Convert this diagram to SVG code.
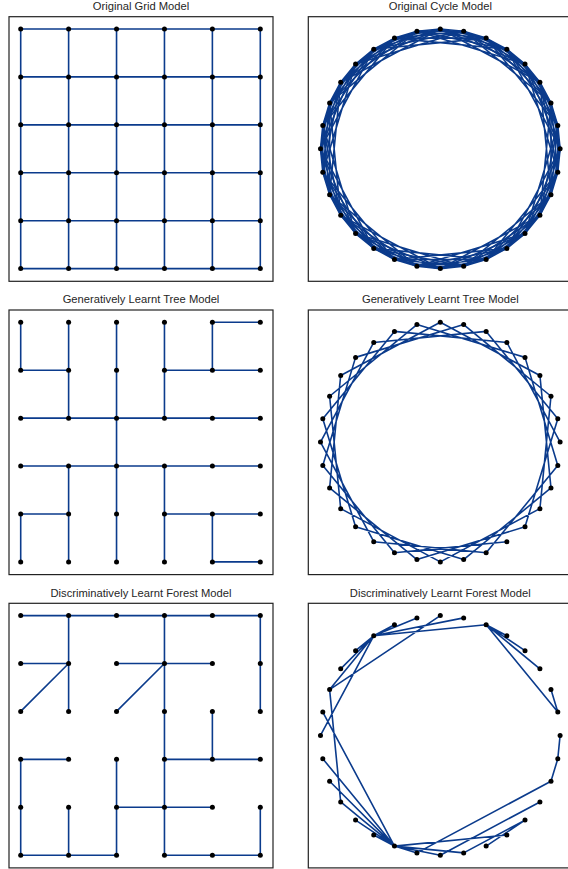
<svg xmlns="http://www.w3.org/2000/svg" width="568" height="869" viewBox="0 0 568 869">
<style>
.bg{fill:#fff}
.frame{fill:none;stroke:#222;stroke-width:1.2}
.e{fill:none;stroke:#0b3b8c;stroke-width:1.6;stroke-linejoin:round;stroke-linecap:round}
.n{fill:#000}
.t{font-family:"Liberation Sans",Arial,sans-serif;font-size:11.2px;fill:#262626;text-anchor:middle}
</style>
<rect class="bg" x="0" y="0" width="568" height="869"/>
<g id="titles">
<text class="t" x="141" y="10">Original Grid Model</text>
<text class="t" x="440.3" y="10">Original Cycle Model</text>
<text class="t" x="141" y="303.3">Generatively Learnt Tree Model</text>
<text class="t" x="440.3" y="303.3">Generatively Learnt Tree Model</text>
<text class="t" x="141" y="596.6">Discriminatively Learnt Forest Model</text>
<text class="t" x="440.3" y="596.6">Discriminatively Learnt Forest Model</text>
</g>
<g id="frames">
<rect class="frame" x="9" y="16.7" width="264" height="264.6"/>
<rect class="frame" x="308.3" y="16.7" width="264" height="264.6"/>
<rect class="frame" x="9" y="310" width="264" height="264.6"/>
<rect class="frame" x="308.3" y="310" width="264" height="264.6"/>
<rect class="frame" x="9" y="603.3" width="264" height="264.6"/>
<rect class="frame" x="308.3" y="603.3" width="264" height="264.6"/>
</g>
<g id="connectors">
<g id="edges-grid-original" transform="translate(20.7,29)">
<path class="e" d="M0,0H239.6M0,47.92H239.6M0,95.84H239.6M0,143.76H239.6M0,191.68H239.6M0,239.6H239.6M0,0V239.6M47.92,0V239.6M95.84,0V239.6M143.76,0V239.6M191.68,0V239.6M239.6,0V239.6"/>
</g>
<g id="edges-cycle-original" transform="translate(440.3,148.8)">
<polygon class="e" points="0,-119.8 23.37,-117.5 45.85,-110.68 66.56,-99.61 84.71,-84.71 99.61,-66.56 110.68,-45.85 117.5,-23.37 119.8,0 117.5,23.37 110.68,45.85 99.61,66.56 84.71,84.71 66.56,99.61 45.85,110.68 23.37,117.5 0,119.8 -23.37,117.5 -45.85,110.68 -66.56,99.61 -84.71,84.71 -99.61,66.56 -110.68,45.85 -117.5,23.37 -119.8,0 -117.5,-23.37 -110.68,-45.85 -99.61,-66.56 -84.71,-84.71 -66.56,-99.61 -45.85,-110.68 -23.37,-117.5"/>
<polygon class="e" points="0,-119.8 45.85,-110.68 84.71,-84.71 110.68,-45.85 119.8,0 110.68,45.85 84.71,84.71 45.85,110.68 0,119.8 -45.85,110.68 -84.71,84.71 -110.68,45.85 -119.8,0 -110.68,-45.85 -84.71,-84.71 -45.85,-110.68"/>
<polygon class="e" points="23.37,-117.5 66.56,-99.61 99.61,-66.56 117.5,-23.37 117.5,23.37 99.61,66.56 66.56,99.61 23.37,117.5 -23.37,117.5 -66.56,99.61 -99.61,66.56 -117.5,23.37 -117.5,-23.37 -99.61,-66.56 -66.56,-99.61 -23.37,-117.5"/>
<polygon class="e" points="0,-119.8 66.56,-99.61 110.68,-45.85 117.5,23.37 84.71,84.71 23.37,117.5 -45.85,110.68 -99.61,66.56 -119.8,0 -99.61,-66.56 -45.85,-110.68 23.37,-117.5 84.71,-84.71 117.5,-23.37 110.68,45.85 66.56,99.61 0,119.8 -66.56,99.61 -110.68,45.85 -117.5,-23.37 -84.71,-84.71 -23.37,-117.5 45.85,-110.68 99.61,-66.56 119.8,0 99.61,66.56 45.85,110.68 -23.37,117.5 -84.71,84.71 -117.5,23.37 -110.68,-45.85 -66.56,-99.61"/>
<polygon class="e" points="0,-119.8 84.71,-84.71 119.8,0 84.71,84.71 0,119.8 -84.71,84.71 -119.8,0 -84.71,-84.71"/>
<polygon class="e" points="23.37,-117.5 99.61,-66.56 117.5,23.37 66.56,99.61 -23.37,117.5 -99.61,66.56 -117.5,-23.37 -66.56,-99.61"/>
<polygon class="e" points="45.85,-110.68 110.68,-45.85 110.68,45.85 45.85,110.68 -45.85,110.68 -110.68,45.85 -110.68,-45.85 -45.85,-110.68"/>
<polygon class="e" points="66.56,-99.61 117.5,-23.37 99.61,66.56 23.37,117.5 -66.56,99.61 -117.5,23.37 -99.61,-66.56 -23.37,-117.5"/>
<polygon class="e" points="0,-119.8 99.61,-66.56 110.68,45.85 23.37,117.5 -84.71,84.71 -117.5,-23.37 -45.85,-110.68 66.56,-99.61 119.8,0 66.56,99.61 -45.85,110.68 -117.5,23.37 -84.71,-84.71 23.37,-117.5 110.68,-45.85 99.61,66.56 0,119.8 -99.61,66.56 -110.68,-45.85 -23.37,-117.5 84.71,-84.71 117.5,23.37 45.85,110.68 -66.56,99.61 -119.8,0 -66.56,-99.61 45.85,-110.68 117.5,-23.37 84.71,84.71 -23.37,117.5 -110.68,45.85 -99.61,-66.56"/>
</g>
<g id="edges-grid-tree" transform="translate(20.7,322.3)">
<path class="e" d="M191.68,0H239.6M0,47.92H47.92M143.76,47.92H239.6M0,95.84H239.6M0,143.76H239.6M0,191.68H47.92M143.76,191.68H239.6M191.68,239.6H239.6M0,0V47.92M0,191.68V239.6M47.92,0V95.84M47.92,143.76V239.6M95.84,0V239.6M143.76,0V95.84M143.76,143.76V239.6M191.68,0V47.92M191.68,191.68V239.6"/>
</g>
<g id="edges-cycle-tree" transform="translate(440.3,442.1)">
<polyline class="e" points="66.56,99.61 -45.85,110.68 -117.5,23.37 -84.71,-84.71 23.37,-117.5 110.68,-45.85 99.61,66.56 0,119.8 -99.61,66.56 -110.68,-45.85 -23.37,-117.5 84.71,-84.71 117.5,23.37 45.85,110.68 -66.56,99.61 -119.8,0 -66.56,-99.61 45.85,-110.68 117.5,-23.37 84.71,84.71 -23.37,117.5 -110.68,45.85 -99.61,-66.56 0,-119.8 99.61,-66.56 110.68,45.85 23.37,117.5 -84.71,84.71 -117.5,-23.37 -45.85,-110.68 66.56,-99.61 119.8,0"/>
</g>
<g id="edges-grid-forest" transform="translate(20.7,615.6)">
<path class="e" d="M0,0H239.6M0,47.92H47.92M95.84,47.92H191.68M0,143.76H47.92M143.76,143.76H239.6M95.84,191.68H191.68M0,239.6H95.84M143.76,239.6H239.6M47.92,47.92L0,95.84M143.76,47.92L95.84,95.84M0,143.76V239.6M47.92,0V95.84M47.92,191.68V239.6M95.84,143.76V239.6M143.76,0V239.6M191.68,95.84V143.76M239.6,0V95.84M239.6,191.68V239.6"/>
</g>
<g id="edges-cycle-forest" transform="translate(440.3,735.4)">
<path class="e" d="M-66.56,-99.61L-45.85,-110.68M-66.56,-99.61L-23.37,-117.5M-66.56,-99.61L23.37,-117.5M-66.56,-99.61L45.85,-110.68M-66.56,-99.61L-84.71,-84.71M-66.56,-99.61L-99.61,-66.56M-66.56,-99.61L-110.68,-45.85M-66.56,-99.61L-119.8,0M0,-119.8L-110.68,-45.85M-110.68,-45.85L-99.61,66.56M-117.5,-23.37L-45.85,110.68M45.85,-110.68L66.56,-99.61M45.85,-110.68L84.71,-84.71M45.85,-110.68L99.61,-66.56M45.85,-110.68L117.5,-23.37M110.68,-45.85L117.5,-23.37M119.8,0L117.5,23.37L110.68,45.85M-45.85,110.68L-66.56,99.61M-45.85,110.68L-84.71,84.71M-45.85,110.68L-99.61,66.56M-45.85,110.68L-110.68,45.85M-45.85,110.68L-117.5,23.37M-45.85,110.68L-23.37,117.5M-45.85,110.68L0,119.8M-45.85,110.68L23.37,117.5M-45.85,110.68L66.56,99.61M45.85,110.68L84.71,84.71M23.37,117.5L84.71,84.71M110.68,45.85L-23.37,117.5M99.61,66.56L0,119.8"/>
</g>
</g>
<g id="nodes">
<g id="nodes-grid-original" transform="translate(20.7,29)">
<circle class="n" r="2.5" cx="0" cy="0"/><circle class="n" r="2.5" cx="47.92" cy="0"/><circle class="n" r="2.5" cx="95.84" cy="0"/><circle class="n" r="2.5" cx="143.76" cy="0"/><circle class="n" r="2.5" cx="191.68" cy="0"/><circle class="n" r="2.5" cx="239.6" cy="0"/>
<circle class="n" r="2.5" cx="0" cy="47.92"/><circle class="n" r="2.5" cx="47.92" cy="47.92"/><circle class="n" r="2.5" cx="95.84" cy="47.92"/><circle class="n" r="2.5" cx="143.76" cy="47.92"/><circle class="n" r="2.5" cx="191.68" cy="47.92"/><circle class="n" r="2.5" cx="239.6" cy="47.92"/>
<circle class="n" r="2.5" cx="0" cy="95.84"/><circle class="n" r="2.5" cx="47.92" cy="95.84"/><circle class="n" r="2.5" cx="95.84" cy="95.84"/><circle class="n" r="2.5" cx="143.76" cy="95.84"/><circle class="n" r="2.5" cx="191.68" cy="95.84"/><circle class="n" r="2.5" cx="239.6" cy="95.84"/>
<circle class="n" r="2.5" cx="0" cy="143.76"/><circle class="n" r="2.5" cx="47.92" cy="143.76"/><circle class="n" r="2.5" cx="95.84" cy="143.76"/><circle class="n" r="2.5" cx="143.76" cy="143.76"/><circle class="n" r="2.5" cx="191.68" cy="143.76"/><circle class="n" r="2.5" cx="239.6" cy="143.76"/>
<circle class="n" r="2.5" cx="0" cy="191.68"/><circle class="n" r="2.5" cx="47.92" cy="191.68"/><circle class="n" r="2.5" cx="95.84" cy="191.68"/><circle class="n" r="2.5" cx="143.76" cy="191.68"/><circle class="n" r="2.5" cx="191.68" cy="191.68"/><circle class="n" r="2.5" cx="239.6" cy="191.68"/>
<circle class="n" r="2.5" cx="0" cy="239.6"/><circle class="n" r="2.5" cx="47.92" cy="239.6"/><circle class="n" r="2.5" cx="95.84" cy="239.6"/><circle class="n" r="2.5" cx="143.76" cy="239.6"/><circle class="n" r="2.5" cx="191.68" cy="239.6"/><circle class="n" r="2.5" cx="239.6" cy="239.6"/>
</g>
<g id="nodes-grid-tree" transform="translate(20.7,322.3)">
<circle class="n" r="2.5" cx="0" cy="0"/><circle class="n" r="2.5" cx="47.92" cy="0"/><circle class="n" r="2.5" cx="95.84" cy="0"/><circle class="n" r="2.5" cx="143.76" cy="0"/><circle class="n" r="2.5" cx="191.68" cy="0"/><circle class="n" r="2.5" cx="239.6" cy="0"/>
<circle class="n" r="2.5" cx="0" cy="47.92"/><circle class="n" r="2.5" cx="47.92" cy="47.92"/><circle class="n" r="2.5" cx="95.84" cy="47.92"/><circle class="n" r="2.5" cx="143.76" cy="47.92"/><circle class="n" r="2.5" cx="191.68" cy="47.92"/><circle class="n" r="2.5" cx="239.6" cy="47.92"/>
<circle class="n" r="2.5" cx="0" cy="95.84"/><circle class="n" r="2.5" cx="47.92" cy="95.84"/><circle class="n" r="2.5" cx="95.84" cy="95.84"/><circle class="n" r="2.5" cx="143.76" cy="95.84"/><circle class="n" r="2.5" cx="191.68" cy="95.84"/><circle class="n" r="2.5" cx="239.6" cy="95.84"/>
<circle class="n" r="2.5" cx="0" cy="143.76"/><circle class="n" r="2.5" cx="47.92" cy="143.76"/><circle class="n" r="2.5" cx="95.84" cy="143.76"/><circle class="n" r="2.5" cx="143.76" cy="143.76"/><circle class="n" r="2.5" cx="191.68" cy="143.76"/><circle class="n" r="2.5" cx="239.6" cy="143.76"/>
<circle class="n" r="2.5" cx="0" cy="191.68"/><circle class="n" r="2.5" cx="47.92" cy="191.68"/><circle class="n" r="2.5" cx="95.84" cy="191.68"/><circle class="n" r="2.5" cx="143.76" cy="191.68"/><circle class="n" r="2.5" cx="191.68" cy="191.68"/><circle class="n" r="2.5" cx="239.6" cy="191.68"/>
<circle class="n" r="2.5" cx="0" cy="239.6"/><circle class="n" r="2.5" cx="47.92" cy="239.6"/><circle class="n" r="2.5" cx="95.84" cy="239.6"/><circle class="n" r="2.5" cx="143.76" cy="239.6"/><circle class="n" r="2.5" cx="191.68" cy="239.6"/><circle class="n" r="2.5" cx="239.6" cy="239.6"/>
</g>
<g id="nodes-grid-forest" transform="translate(20.7,615.6)">
<circle class="n" r="2.5" cx="0" cy="0"/><circle class="n" r="2.5" cx="47.92" cy="0"/><circle class="n" r="2.5" cx="95.84" cy="0"/><circle class="n" r="2.5" cx="143.76" cy="0"/><circle class="n" r="2.5" cx="191.68" cy="0"/><circle class="n" r="2.5" cx="239.6" cy="0"/>
<circle class="n" r="2.5" cx="0" cy="47.92"/><circle class="n" r="2.5" cx="47.92" cy="47.92"/><circle class="n" r="2.5" cx="95.84" cy="47.92"/><circle class="n" r="2.5" cx="143.76" cy="47.92"/><circle class="n" r="2.5" cx="191.68" cy="47.92"/><circle class="n" r="2.5" cx="239.6" cy="47.92"/>
<circle class="n" r="2.5" cx="0" cy="95.84"/><circle class="n" r="2.5" cx="47.92" cy="95.84"/><circle class="n" r="2.5" cx="95.84" cy="95.84"/><circle class="n" r="2.5" cx="143.76" cy="95.84"/><circle class="n" r="2.5" cx="191.68" cy="95.84"/><circle class="n" r="2.5" cx="239.6" cy="95.84"/>
<circle class="n" r="2.5" cx="0" cy="143.76"/><circle class="n" r="2.5" cx="47.92" cy="143.76"/><circle class="n" r="2.5" cx="95.84" cy="143.76"/><circle class="n" r="2.5" cx="143.76" cy="143.76"/><circle class="n" r="2.5" cx="191.68" cy="143.76"/><circle class="n" r="2.5" cx="239.6" cy="143.76"/>
<circle class="n" r="2.5" cx="0" cy="191.68"/><circle class="n" r="2.5" cx="47.92" cy="191.68"/><circle class="n" r="2.5" cx="95.84" cy="191.68"/><circle class="n" r="2.5" cx="143.76" cy="191.68"/><circle class="n" r="2.5" cx="191.68" cy="191.68"/><circle class="n" r="2.5" cx="239.6" cy="191.68"/>
<circle class="n" r="2.5" cx="0" cy="239.6"/><circle class="n" r="2.5" cx="47.92" cy="239.6"/><circle class="n" r="2.5" cx="95.84" cy="239.6"/><circle class="n" r="2.5" cx="143.76" cy="239.6"/><circle class="n" r="2.5" cx="191.68" cy="239.6"/><circle class="n" r="2.5" cx="239.6" cy="239.6"/>
</g>
<g id="nodes-cycle-original" transform="translate(440.3,148.8)">
<circle class="n" r="2.5" cx="0" cy="-119.8"/><circle class="n" r="2.5" cx="23.37" cy="-117.5"/><circle class="n" r="2.5" cx="45.85" cy="-110.68"/><circle class="n" r="2.5" cx="66.56" cy="-99.61"/><circle class="n" r="2.5" cx="84.71" cy="-84.71"/><circle class="n" r="2.5" cx="99.61" cy="-66.56"/><circle class="n" r="2.5" cx="110.68" cy="-45.85"/><circle class="n" r="2.5" cx="117.5" cy="-23.37"/>
<circle class="n" r="2.5" cx="119.8" cy="0"/><circle class="n" r="2.5" cx="117.5" cy="23.37"/><circle class="n" r="2.5" cx="110.68" cy="45.85"/><circle class="n" r="2.5" cx="99.61" cy="66.56"/><circle class="n" r="2.5" cx="84.71" cy="84.71"/><circle class="n" r="2.5" cx="66.56" cy="99.61"/><circle class="n" r="2.5" cx="45.85" cy="110.68"/><circle class="n" r="2.5" cx="23.37" cy="117.5"/>
<circle class="n" r="2.5" cx="0" cy="119.8"/><circle class="n" r="2.5" cx="-23.37" cy="117.5"/><circle class="n" r="2.5" cx="-45.85" cy="110.68"/><circle class="n" r="2.5" cx="-66.56" cy="99.61"/><circle class="n" r="2.5" cx="-84.71" cy="84.71"/><circle class="n" r="2.5" cx="-99.61" cy="66.56"/><circle class="n" r="2.5" cx="-110.68" cy="45.85"/><circle class="n" r="2.5" cx="-117.5" cy="23.37"/>
<circle class="n" r="2.5" cx="-119.8" cy="0"/><circle class="n" r="2.5" cx="-117.5" cy="-23.37"/><circle class="n" r="2.5" cx="-110.68" cy="-45.85"/><circle class="n" r="2.5" cx="-99.61" cy="-66.56"/><circle class="n" r="2.5" cx="-84.71" cy="-84.71"/><circle class="n" r="2.5" cx="-66.56" cy="-99.61"/><circle class="n" r="2.5" cx="-45.85" cy="-110.68"/><circle class="n" r="2.5" cx="-23.37" cy="-117.5"/>
</g>
<g id="nodes-cycle-tree" transform="translate(440.3,442.1)">
<circle class="n" r="2.5" cx="0" cy="-119.8"/><circle class="n" r="2.5" cx="23.37" cy="-117.5"/><circle class="n" r="2.5" cx="45.85" cy="-110.68"/><circle class="n" r="2.5" cx="66.56" cy="-99.61"/><circle class="n" r="2.5" cx="84.71" cy="-84.71"/><circle class="n" r="2.5" cx="99.61" cy="-66.56"/><circle class="n" r="2.5" cx="110.68" cy="-45.85"/><circle class="n" r="2.5" cx="117.5" cy="-23.37"/>
<circle class="n" r="2.5" cx="119.8" cy="0"/><circle class="n" r="2.5" cx="117.5" cy="23.37"/><circle class="n" r="2.5" cx="110.68" cy="45.85"/><circle class="n" r="2.5" cx="99.61" cy="66.56"/><circle class="n" r="2.5" cx="84.71" cy="84.71"/><circle class="n" r="2.5" cx="66.56" cy="99.61"/><circle class="n" r="2.5" cx="45.85" cy="110.68"/><circle class="n" r="2.5" cx="23.37" cy="117.5"/>
<circle class="n" r="2.5" cx="0" cy="119.8"/><circle class="n" r="2.5" cx="-23.37" cy="117.5"/><circle class="n" r="2.5" cx="-45.85" cy="110.68"/><circle class="n" r="2.5" cx="-66.56" cy="99.61"/><circle class="n" r="2.5" cx="-84.71" cy="84.71"/><circle class="n" r="2.5" cx="-99.61" cy="66.56"/><circle class="n" r="2.5" cx="-110.68" cy="45.85"/><circle class="n" r="2.5" cx="-117.5" cy="23.37"/>
<circle class="n" r="2.5" cx="-119.8" cy="0"/><circle class="n" r="2.5" cx="-117.5" cy="-23.37"/><circle class="n" r="2.5" cx="-110.68" cy="-45.85"/><circle class="n" r="2.5" cx="-99.61" cy="-66.56"/><circle class="n" r="2.5" cx="-84.71" cy="-84.71"/><circle class="n" r="2.5" cx="-66.56" cy="-99.61"/><circle class="n" r="2.5" cx="-45.85" cy="-110.68"/><circle class="n" r="2.5" cx="-23.37" cy="-117.5"/>
</g>
<g id="nodes-cycle-forest" transform="translate(440.3,735.4)">
<circle class="n" r="2.5" cx="0" cy="-119.8"/><circle class="n" r="2.5" cx="23.37" cy="-117.5"/><circle class="n" r="2.5" cx="45.85" cy="-110.68"/><circle class="n" r="2.5" cx="66.56" cy="-99.61"/><circle class="n" r="2.5" cx="84.71" cy="-84.71"/><circle class="n" r="2.5" cx="99.61" cy="-66.56"/><circle class="n" r="2.5" cx="110.68" cy="-45.85"/><circle class="n" r="2.5" cx="117.5" cy="-23.37"/>
<circle class="n" r="2.5" cx="119.8" cy="0"/><circle class="n" r="2.5" cx="117.5" cy="23.37"/><circle class="n" r="2.5" cx="110.68" cy="45.85"/><circle class="n" r="2.5" cx="99.61" cy="66.56"/><circle class="n" r="2.5" cx="84.71" cy="84.71"/><circle class="n" r="2.5" cx="66.56" cy="99.61"/><circle class="n" r="2.5" cx="45.85" cy="110.68"/><circle class="n" r="2.5" cx="23.37" cy="117.5"/>
<circle class="n" r="2.5" cx="0" cy="119.8"/><circle class="n" r="2.5" cx="-23.37" cy="117.5"/><circle class="n" r="2.5" cx="-45.85" cy="110.68"/><circle class="n" r="2.5" cx="-66.56" cy="99.61"/><circle class="n" r="2.5" cx="-84.71" cy="84.71"/><circle class="n" r="2.5" cx="-99.61" cy="66.56"/><circle class="n" r="2.5" cx="-110.68" cy="45.85"/><circle class="n" r="2.5" cx="-117.5" cy="23.37"/>
<circle class="n" r="2.5" cx="-119.8" cy="0"/><circle class="n" r="2.5" cx="-117.5" cy="-23.37"/><circle class="n" r="2.5" cx="-110.68" cy="-45.85"/><circle class="n" r="2.5" cx="-99.61" cy="-66.56"/><circle class="n" r="2.5" cx="-84.71" cy="-84.71"/><circle class="n" r="2.5" cx="-66.56" cy="-99.61"/><circle class="n" r="2.5" cx="-45.85" cy="-110.68"/><circle class="n" r="2.5" cx="-23.37" cy="-117.5"/>
</g>
</g>
</svg>
